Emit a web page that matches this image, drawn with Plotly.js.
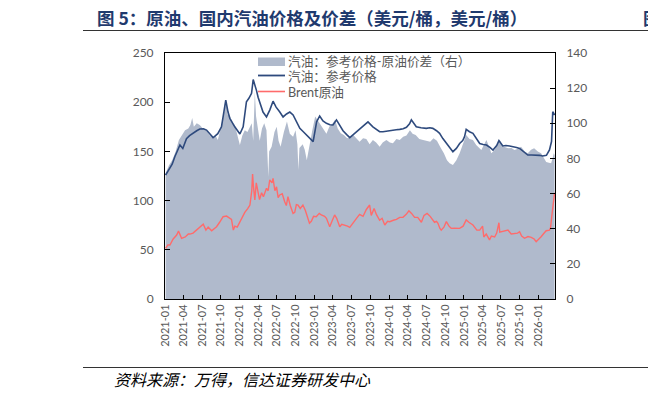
<!DOCTYPE html>
<html><head><meta charset="utf-8">
<script src="https://cdn.plot.ly/plotly-3.0.1.min.js"></script>
<style>html,body{margin:0;padding:0;background:#fff}#c{width:648px;height:399px}</style>
</head><body><div id="c"></div>
<script>
// 汽油：参考价格 (左轴, 美元/桶)
const gasDates = ['2021-01-04','2021-01-15','2021-01-25','2021-02-05','2021-02-18','2021-03-01','2021-03-15','2021-03-29','2021-04-08','2021-04-16','2021-05-01','2021-05-17','2021-06-05','2021-06-20','2021-07-08','2021-07-23','2021-08-08','2021-08-24','2021-09-05','2021-09-16','2021-10-04','2021-10-15','2021-10-25','2021-11-05','2021-11-14','2021-12-08','2022-01-02','2022-01-18','2022-02-03','2022-02-15','2022-02-28','2022-03-08','2022-03-16','2022-03-24','2022-04-01','2022-04-09','2022-04-25','2022-05-12','2022-05-28','2022-06-13','2022-06-28','2022-07-16','2022-08-01','2022-08-18','2022-09-03','2022-09-19','2022-10-05','2022-10-22','2022-11-08','2022-11-23','2022-12-10','2022-12-26','2023-01-12','2023-01-27','2023-02-12','2023-03-01','2023-03-18','2023-04-02','2023-04-19','2023-05-05','2023-05-21','2023-06-08','2023-06-23','2023-07-10','2023-07-26','2023-08-12','2023-08-27','2023-09-20','2023-10-14','2023-11-01','2023-11-16','2023-12-02','2023-12-19','2024-01-05','2024-01-20','2024-02-05','2024-02-22','2024-03-10','2024-03-26','2024-04-10','2024-04-19','2024-05-01','2024-05-13','2024-06-05','2024-07-01','2024-07-18','2024-08-02','2024-08-20','2024-09-04','2024-09-20','2024-10-07','2024-10-22','2024-11-08','2024-11-25','2024-12-11','2024-12-26','2025-01-04','2025-01-12','2025-01-28','2025-02-14','2025-03-02','2025-03-19','2025-04-05','2025-04-21','2025-05-08','2025-05-23','2025-06-10','2025-06-21','2025-07-10','2025-07-25','2025-08-12','2025-09-01','2025-09-15','2025-09-30','2025-10-20','2025-11-09','2025-11-28','2025-12-20','2026-01-05','2026-01-21','2026-02-08','2026-02-23','2026-03-05','2026-03-11','2026-03-20'];
const gasPrice = [126,130,134,137,144.6,150,156.5,153,158,163,166,168.5,171,172.8,173,171.7,168,164,166,168,175,190,202,190,183.6,175,167.7,175,200.5,204,209,223,218,212,205,200,190,185,192,201,195,190,185,188,190,187,180,173.4,170,166.7,163,160,180,186,181,178.5,177,176.8,182,176,171,167,164,167,170,173,175.8,180,175,172,170,170,170.7,171,171.7,172,172.4,173,174.5,178,182,178,175,174,173.4,174,173.4,171,168.4,163,158.2,154,149.7,153,158,161,165,172.4,170,168.4,163,158,157,156.5,154,151.4,156,161,155.5,156,155.5,155,154,153,150,146.3,146.3,146.3,146,145.3,146,151.4,160,190.3,187];

// Brent原油 (左轴, 美元/桶)
const brentDates = ['2021-01-04','2021-01-15','2021-01-25','2021-02-10','2021-02-27','2021-03-08','2021-03-23','2021-04-10','2021-04-25','2021-05-03','2021-05-18','2021-06-04','2021-06-20','2021-07-07','2021-07-20','2021-07-31','2021-08-17','2021-08-30','2021-09-10','2021-09-25','2021-10-12','2021-10-29','2021-11-10','2021-11-22','2021-12-01','2021-12-08','2021-12-20','2022-01-02','2022-01-15','2022-01-26','2022-02-10','2022-02-20','2022-03-01','2022-03-05','2022-03-09','2022-03-13','2022-03-16','2022-03-23','2022-04-01','2022-04-08','2022-04-18','2022-04-27','2022-05-12','2022-05-20','2022-05-28','2022-06-08','2022-06-13','2022-06-22','2022-06-30','2022-07-08','2022-07-16','2022-07-28','2022-08-09','2022-08-17','2022-08-25','2022-09-05','2022-09-19','2022-09-27','2022-10-05','2022-10-13','2022-10-24','2022-11-06','2022-11-18','2022-11-30','2022-12-08','2022-12-17','2022-12-28','2023-01-10','2023-01-25','2023-02-04','2023-02-20','2023-03-01','2023-03-17','2023-03-28','2023-04-10','2023-04-20','2023-05-05','2023-05-15','2023-05-29','2023-06-12','2023-06-23','2023-07-10','2023-07-26','2023-08-10','2023-08-27','2023-09-12','2023-09-28','2023-10-06','2023-10-14','2023-10-20','2023-10-31','2023-11-16','2023-11-28','2023-12-11','2023-12-25','2024-01-04','2024-01-22','2024-02-06','2024-02-22','2024-03-09','2024-03-25','2024-04-07','2024-04-20','2024-05-05','2024-05-20','2024-06-07','2024-06-20','2024-07-05','2024-07-20','2024-08-02','2024-08-10','2024-08-20','2024-08-27','2024-09-05','2024-09-12','2024-09-25','2024-10-07','2024-10-20','2024-10-31','2024-11-15','2024-11-30','2024-12-11','2024-12-28','2025-01-12','2025-01-25','2025-02-14','2025-03-05','2025-03-19','2025-04-02','2025-04-08','2025-04-20','2025-05-06','2025-05-15','2025-05-31','2025-06-10','2025-06-21','2025-06-25','2025-07-03','2025-07-20','2025-08-04','2025-08-20','2025-09-05','2025-09-20','2025-09-30','2025-10-10','2025-10-24','2025-11-10','2025-11-26','2025-12-10','2025-12-20','2026-01-05','2026-01-13','2026-01-28','2026-02-07','2026-02-23','2026-02-28','2026-03-06','2026-03-12','2026-03-20'];
const brentPrice = [51.5,55,54.9,61,65,69,61.7,63,66,66,67,70,73,76,70,73,69.4,72,73.5,78,83.6,84.3,83,81,70,74,73,78,84,88,92,95.5,110,127,115,104,100.6,118,106,101,108,104,112.5,110,121,118,122.6,110,114,103,105.7,107,98.9,95,104,95,87,88,96,95.5,92,95.5,90,82,77,79,84,83.6,87,85.4,84,82,73.5,79,85.4,82,73.5,76,75.2,74,72.8,78,82,86,84,91,95.5,85,88.7,92,86,80,82,75.2,79,78.6,80,81,83,83,86,89.7,87,83,83,78,85,87,84,80.3,78,79,77,72,70,73,78.6,74,71.8,72,72,71.8,74,80.3,78,75.2,70,70,74,63,66,60,64,63,67,77.5,68,68.4,69,70,66,66.8,67,68.4,64,61.7,63.5,62.7,61,58.2,61,63.3,67,69.4,70,72,83.6,95,108];

// 汽油：参考价格-原油价差（右轴, 美元/桶）
const spreadDates = ['2021-01-04','2021-01-20','2021-02-05','2021-02-22','2021-03-10','2021-03-25','2021-04-09','2021-04-25','2021-05-05','2021-05-14','2021-05-22','2021-06-05','2021-06-20','2021-07-05','2021-07-23','2021-08-08','2021-08-24','2021-09-05','2021-09-16','2021-09-28','2021-10-08','2021-10-20','2021-10-27','2021-11-03','2021-11-14','2021-11-28','2021-12-08','2021-12-22','2022-01-02','2022-01-14','2022-01-26','2022-02-08','2022-02-20','2022-03-01','2022-03-08','2022-03-16','2022-03-22','2022-04-01','2022-04-09','2022-04-20','2022-05-01','2022-05-12','2022-05-18','2022-05-21','2022-05-25','2022-06-06','2022-06-20','2022-07-01','2022-07-10','2022-07-20','2022-08-05','2022-08-20','2022-09-03','2022-09-19','2022-10-01','2022-10-10','2022-10-15','2022-10-20','2022-11-05','2022-11-15','2022-11-25','2022-12-09','2022-12-22','2023-01-05','2023-01-20','2023-02-04','2023-02-18','2023-03-01','2023-03-15','2023-04-01','2023-04-12','2023-04-25','2023-05-10','2023-05-25','2023-06-10','2023-06-25','2023-07-10','2023-07-26','2023-08-10','2023-08-27','2023-09-12','2023-09-28','2023-10-14','2023-10-30','2023-11-16','2023-12-01','2023-12-19','2024-01-05','2024-01-20','2024-02-06','2024-02-22','2024-03-10','2024-03-26','2024-04-12','2024-04-25','2024-05-10','2024-05-28','2024-06-15','2024-07-01','2024-07-20','2024-08-05','2024-08-22','2024-09-10','2024-09-25','2024-10-10','2024-10-23','2024-11-08','2024-11-25','2024-12-11','2024-12-28','2025-01-12','2025-01-28','2025-02-14','2025-03-02','2025-03-19','2025-03-27','2025-04-10','2025-04-21','2025-05-06','2025-05-15','2025-05-31','2025-06-15','2025-06-25','2025-07-10','2025-07-19','2025-08-05','2025-08-21','2025-09-05','2025-09-22','2025-10-07','2025-10-25','2025-11-09','2025-11-25','2025-12-10','2025-12-28','2026-01-13','2026-01-28','2026-02-07','2026-02-20','2026-03-03','2026-03-10','2026-03-16','2026-03-20'];
const spreadValue = [71.5,76,79,84,90.5,93,96,97,99,103,98,100,99,97,96,93,91.5,93,90.5,96,101,108,113,105,103.8,100,99,93,87.6,93,96,95,98,100,90,118,104,96,90,97,100,96,82,69.6,84,86.7,95,98,90,86.7,95,101,94,92.4,96,88,73.4,86,88,85,79,88.6,96,103.8,101,98,96,94,98,100,102,97,94.3,93.3,91.5,92,93.3,91,89.5,91.5,91,88,90.5,89,86.7,89,90.5,89,88.6,91,90.5,92.4,93,96,94,93.3,91,90.5,90,89.5,91.5,90,86,83,79,77.2,76.3,79,83,88,93.3,91,90.5,87.6,86,84.8,88,90.5,86,83,84.8,88,90.5,87,86.7,85.8,86,84.8,85.5,86.7,84,83,85,85.8,84,83,80,78,77.5,77.2,80,83,82];

const legendLabels = ['汽油：参考价格-原油价差（右）', '汽油：参考价格', 'Brent原油'];
const seriesColors = ['#b0bacc', '#2e4a7d', '#ff6b6b'];

const FONT = "Lato, 'Noto Sans CJK SC', sans-serif";
const GRAY = '#595959';

const traces = [
  {x: spreadDates, y: spreadValue, name: legendLabels[0], type: 'scatter', mode: 'lines',
   fill: 'tozeroy', fillcolor: seriesColors[0], line: {width: 0, color: seriesColors[0]}, yaxis: 'y'},
  {x: gasDates, y: gasPrice, name: legendLabels[1], type: 'scatter', mode: 'lines',
   line: {width: 1.6, color: seriesColors[1]}, yaxis: 'y2'},
  {x: brentDates, y: brentPrice, name: legendLabels[2], type: 'scatter', mode: 'lines',
   line: {width: 1.4, color: seriesColors[2]}, yaxis: 'y2'}
];

// plot area: left 165, right 555, top 53, bottom 299 (px)
const px = v => (v - 165) / 390;
const py = v => (299 - v) / 246;

const legRows = [61, 75.5, 91.5];
const shapes = [
  {type: 'line', xref: 'paper', yref: 'paper', x0: px(83), x1: px(660), y0: py(30.5), y1: py(30.5), line: {color: '#333', width: 1.2}},
  {type: 'line', xref: 'paper', yref: 'paper', x0: px(83), x1: px(660), y0: py(367.5), y1: py(367.5), line: {color: '#333', width: 1}},
  {type: 'rect', xref: 'paper', yref: 'paper', x0: px(258), x1: px(285), y0: py(66), y1: py(57.5), fillcolor: seriesColors[0], line: {width: 0}},
  {type: 'line', xref: 'paper', yref: 'paper', x0: px(258), x1: px(285), y0: py(legRows[1]), y1: py(legRows[1]), line: {color: seriesColors[1], width: 1.8}},
  {type: 'line', xref: 'paper', yref: 'paper', x0: px(258), x1: px(285), y0: py(legRows[2]), y1: py(legRows[2]), line: {color: seriesColors[2], width: 1.6}}
];
const annotations = [
  {xref: 'paper', yref: 'paper', x: px(95), y: py(18), xanchor: 'left', yanchor: 'middle', showarrow: false,
   text: '<b>图 5：原油、国内汽油价格及价差（美元/桶，美元/桶）</b>', font: {size: 17.5, color: '#1f3a6e', family: "'Noto Sans CJK SC', sans-serif"}},
  {xref: 'paper', yref: 'paper', x: px(641), y: py(18), xanchor: 'left', yanchor: 'middle', showarrow: false,
   text: '<b>图</b>', font: {size: 17.5, color: '#1f3a6e', family: "'Noto Sans CJK SC', sans-serif"}},
  {xref: 'paper', yref: 'paper', x: px(112), y: py(379), xanchor: 'left', yanchor: 'middle', showarrow: false,
   text: '<i>资料来源：万得，信达证券研发中心</i>', font: {size: 16, color: '#000', family: "'Noto Sans CJK SC', sans-serif"}}
];
legendLabels.forEach((t, i) => annotations.push({xref: 'paper', yref: 'paper', x: px(286), y: py(legRows[i]),
  xanchor: 'left', yanchor: 'middle', showarrow: false, text: t, font: {size: 12.7, color: GRAY, family: FONT}}));

const layout = {
  width: 648, height: 399,
  margin: {l: 165, r: 93, t: 53, b: 100},
  paper_bgcolor: '#fff', plot_bgcolor: '#fff',
  font: {family: FONT, color: GRAY, size: 12},
  showlegend: false,
  xaxis: {type: 'date', range: ['2021-01-01', '2026-03-22'], dtick: 'M3', tick0: '2021-01-01',
          tickformat: '%Y-%m', tickangle: -90, ticks: 'inside', ticklen: 4, tickcolor: '#000',
          showline: true, linecolor: '#000', linewidth: 1, mirror: true, showgrid: false, zeroline: false,
          tickfont: {size: 11, color: GRAY}},
  yaxis: {range: [0, 140], dtick: 20, side: 'right', ticks: 'inside', ticklen: 5, tickcolor: '#000',
          showline: true, linecolor: '#000', linewidth: 1, showgrid: false, zeroline: false,
          tickfont: {size: 12, color: GRAY}, ticklabelstandoff: 8},
  yaxis2: {range: [0, 250], dtick: 50, side: 'left', overlaying: 'y', ticks: 'inside', ticklen: 5, tickcolor: '#000',
           showline: true, linecolor: '#000', linewidth: 1, showgrid: false, zeroline: false,
           tickfont: {size: 12, color: GRAY}, ticklabelstandoff: 8},
  shapes: shapes,
  annotations: annotations
};

Plotly.newPlot('c', traces, layout, {displayModeBar: false, staticPlot: true});
</script>
</body></html>
